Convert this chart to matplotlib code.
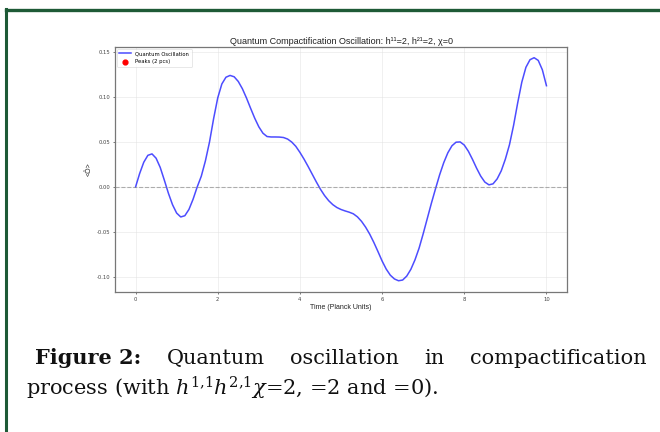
import numpy as np
import matplotlib.pyplot as plt
from matplotlib.lines import Line2D

# oscillation values, one every 0.1 Planck units
time = np.linspace(0, 10, 101)
osc = [
    0.0000, 0.0150, 0.0275, 0.0352, 0.0368, 0.0320, 0.0218, 0.0077, -0.0070, -0.0197,
    -0.0290, -0.0333, -0.0319, -0.0249, -0.0136, 0.0000, 0.0120, 0.0290, 0.0500, 0.0760,
    0.0990, 0.1145, 0.1220, 0.1240, 0.1225, 0.1173, 0.1092, 0.0989, 0.0875, 0.0765,
    0.0669, 0.0598, 0.0561, 0.0556, 0.0556, 0.0555, 0.0550, 0.0533, 0.0500, 0.0452,
    0.0385, 0.0310, 0.0228, 0.0142, 0.0056, -0.0025, -0.0095, -0.0152, -0.0196, -0.0228,
    -0.0250, -0.0266, -0.0280, -0.0298, -0.0332, -0.0382, -0.0447, -0.0525, -0.0617, -0.0718,
    -0.0822, -0.0912, -0.0980, -0.1022, -0.1042, -0.1034, -0.0990, -0.0915, -0.0810, -0.0680,
    -0.0520, -0.0350, -0.0180, -0.0020, 0.0135, 0.0270, 0.0380, 0.0458, 0.0498, 0.0501,
    0.0466, 0.0397, 0.0307, 0.0209, 0.0121, 0.0055, 0.0024, 0.0035, 0.0090, 0.0180,
    0.0310, 0.0470, 0.0685, 0.0935, 0.1165, 0.1330, 0.1415, 0.1437, 0.1407, 0.1303,
    0.1126,
]
# peaks listed in the legend but not drawn on the curve
peak_t = []
peak_v = []

title = 'Quantum Compactification Oscillation: h\u00b9\u00b9=2, h\u00b2\u00b9=2, \u03c7=0'
cap_words = ['Quantum', 'oscillation', 'in', 'compactification']

plt.rcParams['mathtext.fontset'] = 'dejavuserif'

W, H = 660, 432
fig = plt.figure(figsize=(W / 100, H / 100), dpi=100)
fig.patch.set_facecolor('white')

ax = fig.add_axes([115 / W, 1 - 292 / H, (567 - 115) / W, (292 - 47) / H])
ax.plot(time, osc, color='#2020ff', alpha=0.8, lw=1.1, label='Quantum Oscillation',
        solid_joinstyle='round')
ax.scatter(peak_t, peak_v, color='red', s=12, label='Peaks (2 pcs)')
ax.axhline(0, color='gray', ls='--', lw=0.8, alpha=0.6)
ax.set_xlim(-0.5, 10.5)
ax.set_ylim(-0.1167, 0.1556)
ax.set_xticks([0, 2, 4, 6, 8, 10])
ax.set_yticks([-0.10, -0.05, 0.00, 0.05, 0.10, 0.15])
ax.yaxis.set_major_formatter(plt.FormatStrFormatter('%.2f'))
ax.grid(True, color='#dddddd', lw=0.5, alpha=0.6)
ax.tick_params(labelsize=3.8, length=1.5, width=0.5, colors='#444444', pad=2)
for s in ax.spines.values():
    s.set_color('#777777')
    s.set_linewidth(0.9)
ax.set_title(title, fontsize=6.5, family='Liberation Sans', color='#222222', pad=2)
ax.set_xlabel('Time (Planck Units)', fontsize=5, family='Liberation Sans', labelpad=1.5, color='#222222')
ax.set_ylabel('<\u00d4>', fontsize=5, family='Liberation Sans', labelpad=3, color='#222222')
leg = ax.legend(loc='upper left', fontsize=3.8, frameon=True, borderpad=0.5,
                handlelength=2.2, labelspacing=0.6, borderaxespad=0.3)
leg.get_frame().set_linewidth(0.4)
leg.get_frame().set_edgecolor('#cccccc')

# green box border of the page
green = '#1e5a36'
fig.add_artist(Line2D([6 / W, 6 / W], [0, 1 - 9 / H], color=green, lw=2.2))
fig.add_artist(Line2D([6 / W, 1], [1 - 9.5 / H, 1 - 9.5 / H], color=green, lw=2.4))

# caption, first line justified
cap_font = dict(family='DejaVu Serif', fontsize=15, color='#111111')
y1 = 1 - 364 / H
y2 = 1 - 395 / H
t0 = fig.text(35 / W, y1, 'Figure 2:', fontweight='bold', **cap_font)
texts = [fig.text(0, y1, w, **cap_font) for w in cap_words]
fig.canvas.draw()
r = fig.canvas.get_renderer()
x_start = t0.get_window_extent(r).x1
x_end = 647
widths = [t.get_window_extent(r).width for t in texts]
gap = (x_end - x_start - sum(widths)) / len(texts)
x = x_start + gap
for t, w in zip(texts, widths):
    t.set_x(x / W)
    x += w + gap

fig.text(26 / W, y2, r'process (with $h^{1{,}1}h^{2{,}1}\chi$=2, =2 and =0).', **cap_font)

fig.savefig('out.png', dpi=100)
